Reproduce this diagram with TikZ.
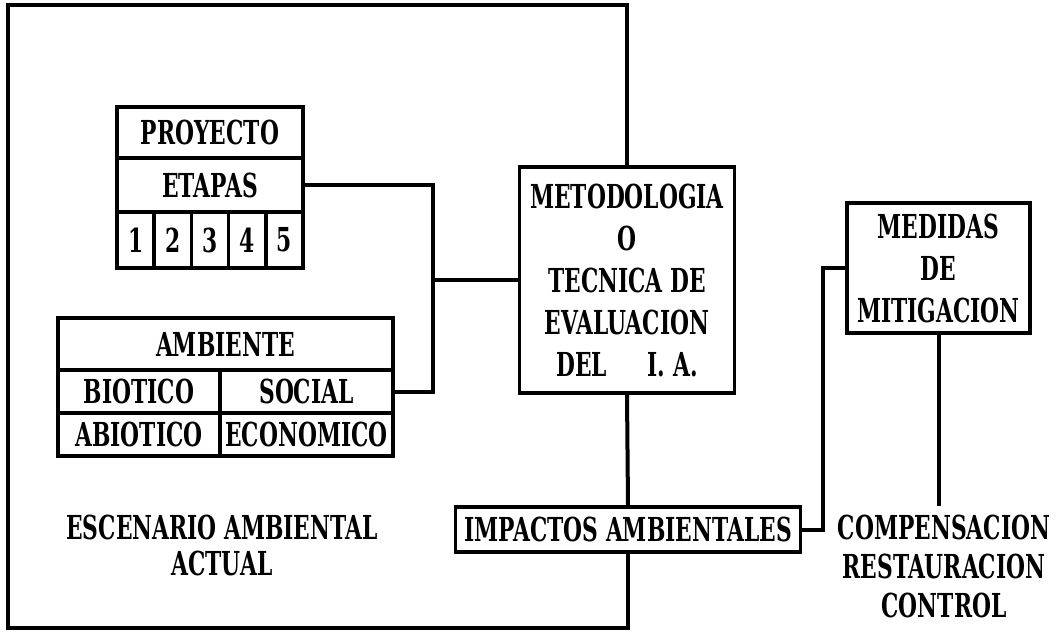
\documentclass[tikz,border=0pt]{standalone}
\usepackage{fontspec}
\usetikzlibrary{positioning}
\newfontfamily\typefont{DejaVu Serif}[FakeStretch=0.66]

\begin{document}
\begin{tikzpicture}[
  x=1pt, y=-1pt,
  txt/.style={font=\typefont\bfseries\fontsize{33}{42}\selectfont, inner sep=0pt, align=center},
  cell/.style={txt, draw, line width=3.5pt},
  conn/.style={line width=4pt},
  frame/.style={line width=4.5pt}
]
  \useasboundingbox (0,0) rectangle (1058,632);

  % proyecto
  \node[cell, minimum width=186pt, minimum height=51pt] (proyecto) at (210,132.5) {PROYECTO};
  \node[cell, minimum width=186pt, minimum height=54pt] (etapas) at (210,185) {ETAPAS};
  \foreach \i in {1,...,5}
    \node[cell, minimum width=37.2pt, minimum height=56pt] (et\i) at (98.4+37.2*\i,240) {\i};

  % ambiente
  \node[cell, minimum width=335pt, minimum height=52pt] (ambiente) at (225.5,344) {AMBIENTE};
  \node[cell, minimum width=162pt, minimum height=43pt] (biotico) at (139,391.5) {BIOTICO};
  \node[cell, minimum width=173pt, minimum height=43pt] (social) at (306.5,391.5) {SOCIAL};
  \node[cell, minimum width=162pt, minimum height=43pt] (abiotico) at (139,434.5) {ABIOTICO};
  \node[cell, minimum width=173pt, minimum height=43pt] (economico) at (306.5,434.5) {ECONOMICO};

  \node[txt, font=\typefont\bfseries\fontsize{33}{36}\selectfont] (escenario) at (222,545)
      {ESCENARIO AMBIENTAL\\ACTUAL};

  % evaluacion
  \node[cell, fill=white, minimum width=215pt, minimum height=226pt] (metodo) at (627,280)
      {METODOLOGIA\\O\\TECNICA DE\\EVALUACION\\DEL\quad\ I. A.};
  \node[cell, fill=white, minimum width=345pt, minimum height=45pt] (impactos) at (628,529.5)
      {IMPACTOS AMBIENTALES};
  \node[cell, minimum width=183pt, minimum height=130pt] (medidas) at (938.5,268)
      {MEDIDAS\\DE\\MITIGACION};
  \node[txt, inner ysep=8pt, font=\typefont\bfseries\fontsize{33}{39}\selectfont] (compens) at (944,566)
      {COMPENSACION\\RESTAURACION\\CONTROL};

  \coordinate (jn) at (433,280);

  \draw[frame] (metodo.north) -- (metodo.north |- 0,5) -- (8,5) -- (8,628)
      -- (impactos.south |- 0,628) -- (impactos.south);
  \draw[conn] (etapas.east) -| (jn) |- (social.east);
  \draw[conn] (jn) -- (metodo.west);
  \draw[conn] (metodo.south) -- (impactos.north);
  \draw[conn] (impactos.east) -- ++(21,0) |- (medidas.west);
  \draw[conn] (medidas.south) -- (medidas.south |- compens.north);
\end{tikzpicture}
\end{document}
